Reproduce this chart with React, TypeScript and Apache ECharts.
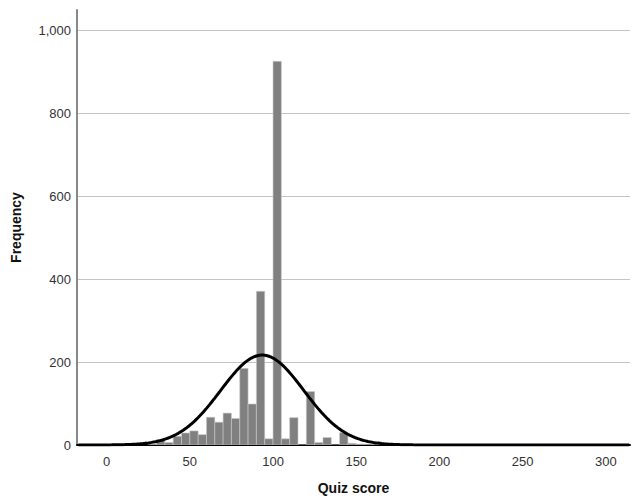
import React, { useEffect, useRef } from "react";
import * as echarts from "echarts";

// Histogram bins (lower edge, width 5) and frequencies
const binStarts = [25, 30, 35, 40, 45, 50, 55, 60, 65, 70, 75, 80, 85, 90, 95, 100, 105, 110, 115, 120, 125, 130, 135, 140, 145, 150, 155, 160];
const binCounts = [2, 13, 6, 21, 29, 34, 25, 67, 55, 77, 64, 185, 99, 371, 15, 926, 15, 66, 0, 129, 6, 18, 0, 30, 4, 2, 1, 8];
const binWidth = 5;

// Fitted normal curve parameters
const curveMean = 93.5;
const curveSd = 25;
const curveN = 2720;

const xTicks = [0, 50, 100, 150, 200, 250, 300];
const yTicks = [0, 200, 400, 600, 800, 1000];

const FONT = "Liberation Sans, Arial, sans-serif";

export default function App() {
  const ref = useRef<HTMLDivElement>(null);
  useEffect(() => {
    document.body.style.margin = "0";
    const chart = echarts.init(ref.current!, null, { renderer: "svg" });
    const xMin = -17.8;
    const xMax = 314.5;
    const curve: number[][] = [];
    for (let x = Math.ceil(xMin); x <= Math.floor(xMax); x += 1) {
      const z = (x - curveMean) / curveSd;
      const y = (curveN * binWidth) / (curveSd * Math.sqrt(2 * Math.PI)) * Math.exp(-0.5 * z * z);
      curve.push([x, y]);
    }
    const histData = binStarts.map((s, i) => [s, s + binWidth, binCounts[i]]);
    chart.setOption({
      animation: false,
      grid: { left: 77, right: 4, top: 10, bottom: 53 },
      xAxis: {
        type: "value",
        min: xMin,
        max: xMax,
        name: "Quiz score",
        nameLocation: "middle",
        nameGap: 36,
        nameTextStyle: { fontFamily: FONT, fontWeight: "bold", fontSize: 14, color: "#111" },
        axisLine: { show: true, onZero: false, lineStyle: { color: "#000", width: 2 } },
        axisTick: { show: false, customValues: xTicks },
        axisLabel: { customValues: xTicks, fontFamily: FONT, fontSize: 13, color: "#333", margin: 10 },
        splitLine: { show: false },
      },
      yAxis: {
        type: "value",
        min: 0,
        max: 1050,
        name: "Frequency",
        nameLocation: "middle",
        nameGap: 54,
        nameTextStyle: { fontFamily: FONT, fontWeight: "bold", fontSize: 14, color: "#111" },
        axisLine: { show: true, onZero: false, lineStyle: { color: "#888", width: 2 } },
        axisTick: { show: false, customValues: yTicks },
        axisLabel: {
          customValues: yTicks,
          fontFamily: FONT,
          fontSize: 13,
          color: "#333",
          margin: 6,
          formatter: (v: number) => v.toLocaleString("en-US"),
        },
        splitLine: { show: true, lineStyle: { color: "#c4c4c4", width: 1 } },
      },
      series: [
        {
          type: "custom",
          data: histData,
          encode: { x: [0, 1], y: 2 },
          clip: true,
          renderItem: (params: any, api: any) => {
            const p0 = api.coord([api.value(0), api.value(2)]);
            const p1 = api.coord([api.value(1), 0]);
            return {
              type: "rect",
              shape: { x: p0[0], y: p0[1], width: p1[0] - p0[0], height: p1[1] - p0[1] },
              style: { fill: "#808080", stroke: "#c8c8c8", lineWidth: 0.6 },
            };
          },
          z: 2,
        },
        {
          type: "line",
          data: curve,
          showSymbol: false,
          smooth: false,
          lineStyle: { color: "#000", width: 3 },
          z: 3,
        },
      ],
    });
    return () => chart.dispose();
  }, []);
  return <div ref={ref} style={{ position: "absolute", left: 0, top: 0, width: 634, height: 500 }} />;
}
